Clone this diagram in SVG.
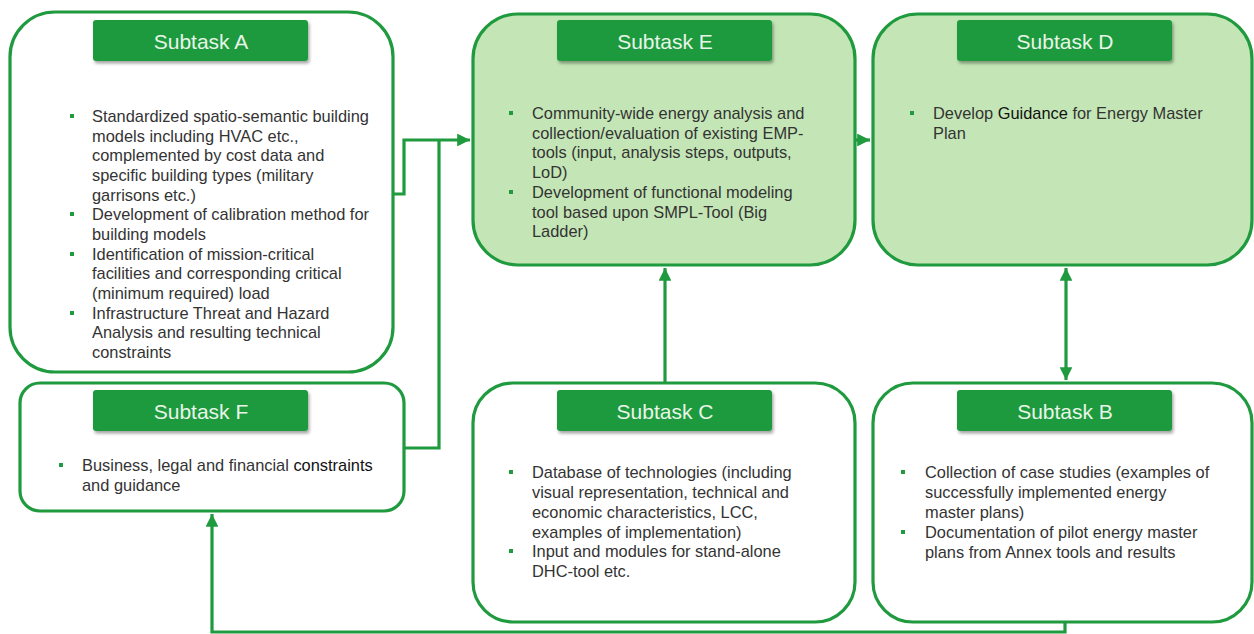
<svg xmlns="http://www.w3.org/2000/svg" width="1254" height="634" viewBox="0 0 1254 634">
<defs>
<style>
.box{fill:#ffffff;stroke:#1f9a3e;stroke-width:3.2}
.lg{fill:#c4e6b6}
.tab{fill:#1f9a3e;filter:url(#sh)}
.tt{font-family:"Liberation Sans",Arial,sans-serif;font-size:21px;fill:#e8f5e8;text-anchor:middle}
.tx{font-family:"Liberation Sans",Arial,sans-serif;font-size:16.4px;fill:#333333}
.dk{fill:#111}
.bl{fill:#1f9a3e}
.cn{fill:none;stroke:#1f9a3e;stroke-width:3.2}
</style>
<filter id="sh" x="-10%" y="-20%" width="120%" height="150%">
<feDropShadow dx="1.5" dy="2.5" stdDeviation="1.5" flood-color="#000" flood-opacity="0.35"/>
</filter>
<marker id="ah" viewBox="0 0 10 10" refX="10" refY="5" markerWidth="4" markerHeight="4" orient="auto-start-reverse" markerUnits="strokeWidth">
<path d="M0,0 L10,5 L0,10 z" fill="#1f9a3e"/>
</marker>
</defs>
<rect width="1254" height="634" fill="#ffffff"/>

<g id="connectors">
<polyline class="cn" points="393,194 404,194 404,140 470,140" marker-end="url(#ah)"/>
<polyline class="cn" points="404,448 439,448 439,140"/>
<line class="cn" x1="855" y1="140" x2="870" y2="140" marker-end="url(#ah)"/>
<line class="cn" x1="665" y1="383" x2="665" y2="268" marker-end="url(#ah)"/>
<line class="cn" x1="1066" y1="268" x2="1066" y2="380" marker-start="url(#ah)" marker-end="url(#ah)"/>
<polyline class="cn" points="1065,622 1065,632 212,632 212,514" marker-end="url(#ah)"/>
</g>

<g id="subtaskA">
<rect class="box" x="10" y="12" width="383" height="360" rx="45"/>
<rect class="tab" x="93" y="20" width="215" height="41" rx="3"/>
<text class="tt" x="201" y="49">Subtask A</text>
<rect class="bl" x="70" y="114" width="4" height="4"/>
<rect class="bl" x="70" y="212" width="4" height="4"/>
<rect class="bl" x="70" y="252" width="4" height="4"/>
<rect class="bl" x="70" y="311" width="4" height="4"/>
<text class="tx">
<tspan x="92" y="122">Standardized spatio-semantic building</tspan>
<tspan x="92" y="142">models including HVAC etc.,</tspan>
<tspan x="92" y="161">complemented by cost data and</tspan>
<tspan x="92" y="181">specific building types (military</tspan>
<tspan x="92" y="201">garrisons etc.)</tspan>
<tspan x="92" y="220">Development of calibration method for</tspan>
<tspan x="92" y="240">building models</tspan>
<tspan x="92" y="260">Identification of mission-critical</tspan>
<tspan x="92" y="279">facilities and corresponding critical</tspan>
<tspan x="92" y="299">(minimum required) load</tspan>
<tspan x="92" y="319">Infrastructure Threat and Hazard</tspan>
<tspan x="92" y="338">Analysis and resulting technical</tspan>
<tspan x="92" y="358">constraints</tspan>
</text>
</g>

<g id="subtaskE">
<rect class="box lg" x="473" y="14" width="382" height="251" rx="45"/>
<rect class="tab" x="557" y="20" width="215" height="41" rx="3"/>
<text class="tt" x="665" y="49">Subtask E</text>
<rect class="bl" x="509" y="111" width="4" height="4"/>
<rect class="bl" x="509" y="190" width="4" height="4"/>
<text class="tx">
<tspan x="532" y="119">Community-wide energy analysis and</tspan>
<tspan x="532" y="139">collection/evaluation of existing EMP-</tspan>
<tspan x="532" y="158">tools (input, analysis steps, outputs,</tspan>
<tspan x="532" y="178">LoD)</tspan>
<tspan x="532" y="198">Development of functional modeling</tspan>
<tspan x="532" y="218">tool based upon SMPL-Tool (Big</tspan>
<tspan x="532" y="237">Ladder)</tspan>
</text>
</g>

<g id="subtaskD">
<rect class="box lg" x="873" y="14" width="379" height="251" rx="45"/>
<rect class="tab" x="957" y="20" width="215" height="41" rx="3"/>
<text class="tt" x="1065" y="49">Subtask D</text>
<rect class="bl" x="910" y="111" width="4" height="4"/>
<text class="tx">
<tspan x="933" y="119">Develop <tspan class="dk">Guidance</tspan> for Energy Master</tspan>
<tspan x="933" y="139">Plan</tspan>
</text>
</g>

<g id="subtaskF">
<rect class="box" x="20" y="383" width="384" height="128" rx="20"/>
<rect class="tab" x="93" y="390" width="215" height="41" rx="3"/>
<text class="tt" x="201" y="419">Subtask F</text>
<rect class="bl" x="59" y="463" width="4" height="4"/>
<text class="tx">
<tspan x="82" y="471">Business, legal and financial <tspan class="dk">constraints</tspan></tspan>
<tspan x="82" y="491">and guidance</tspan>
</text>
</g>

<g id="subtaskC">
<rect class="box" x="473" y="383" width="382" height="239" rx="40"/>
<rect class="tab" x="557" y="390" width="215" height="41" rx="3"/>
<text class="tt" x="665" y="419">Subtask C</text>
<rect class="bl" x="509" y="470" width="4" height="4"/>
<rect class="bl" x="509" y="549" width="4" height="4"/>
<text class="tx">
<tspan x="532" y="478">Database of technologies (including</tspan>
<tspan x="532" y="498">visual representation, technical and</tspan>
<tspan x="532" y="518">economic characteristics, LCC,</tspan>
<tspan x="532" y="538">examples of implementation)</tspan>
<tspan x="532" y="557">Input and modules for stand-alone</tspan>
<tspan x="532" y="577">DHC-tool etc.</tspan>
</text>
</g>

<g id="subtaskB">
<rect class="box" x="873" y="383" width="379" height="239" rx="40"/>
<rect class="tab" x="957" y="390" width="215" height="41" rx="3"/>
<text class="tt" x="1065" y="419">Subtask B</text>
<rect class="bl" x="901" y="470" width="4" height="4"/>
<rect class="bl" x="901" y="530" width="4" height="4"/>
<text class="tx">
<tspan x="925" y="478">Collection of case studies (examples of</tspan>
<tspan x="925" y="498">successfully implemented energy</tspan>
<tspan x="925" y="518">master plans)</tspan>
<tspan x="925" y="538">Documentation of pilot energy master</tspan>
<tspan x="925" y="558">plans from Annex tools and results</tspan>
</text>
</g>
</svg>
